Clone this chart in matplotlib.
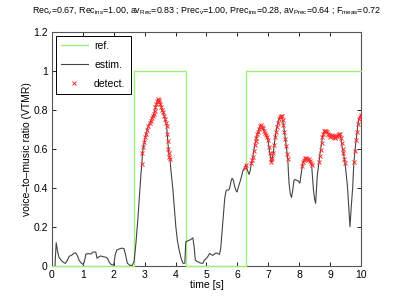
import numpy as np
import matplotlib
matplotlib.use('Agg')
import matplotlib.pyplot as plt

plt.rcParams['font.family'] = ['Liberation Sans', 'DejaVu Sans']
plt.rcParams['mathtext.fontset'] = 'custom'
plt.rcParams['mathtext.rm'] = 'Liberation Sans'
plt.rcParams['mathtext.it'] = 'Liberation Sans:italic'

# reference annotation (voice = 1)
ref_t = [0.0, 2.65, 2.65, 4.33, 4.33, 6.27, 6.27, 10.0]
ref_v = [0, 0, 1, 1, 0, 0, 1, 1]

# estimated VTMR curve
time = [0.10, 0.14, 0.18, 0.23, 0.30, 0.38, 0.44, 0.50, 0.56, 0.64, 0.72, 0.77,
        0.82, 0.88, 0.95, 1.02, 1.06, 1.10, 1.18, 1.26, 1.33, 1.42, 1.46, 1.52,
        1.58, 1.66, 1.74, 1.80, 1.86, 1.92, 2.00, 2.05, 2.10, 2.18, 2.26, 2.33,
        2.38, 2.44, 2.52, 2.60, 2.66, 2.72, 2.78, 2.84, 2.88,
        2.91, 2.93, 2.96, 2.99, 3.02, 3.05, 3.08, 3.12, 3.16, 3.20, 3.23, 3.26,
        3.29, 3.32, 3.35, 3.38, 3.41, 3.43, 3.45, 3.48, 3.51, 3.54, 3.57, 3.60,
        3.63, 3.66, 3.69, 3.71, 3.73, 3.75, 3.77, 3.78, 3.80, 3.82, 3.85, 3.91,
        3.96, 4.01, 4.06, 4.12, 4.18, 4.24, 4.30, 4.33, 4.40, 4.48, 4.56, 4.60,
        4.64, 4.72, 4.80, 4.88, 4.93, 5.00, 5.04, 5.10, 5.15, 5.20, 5.26, 5.31,
        5.37, 5.42, 5.46, 5.50, 5.54, 5.59, 5.63, 5.66, 5.72, 5.75, 5.80, 5.83,
        5.87, 5.91, 5.96, 5.99, 6.04, 6.10, 6.18, 6.24, 6.27, 6.31, 6.34, 6.38,
        6.42, 6.45, 6.48, 6.50, 6.53, 6.56, 6.59, 6.61, 6.64, 6.67, 6.70, 6.73,
        6.76, 6.79, 6.83, 6.86, 6.89, 6.92, 6.95, 6.99, 7.02, 7.05, 7.08, 7.10,
        7.13, 7.16, 7.19, 7.22, 7.25, 7.28, 7.31, 7.34, 7.37, 7.40, 7.43, 7.46,
        7.49, 7.52, 7.55, 7.58, 7.61, 7.63, 7.65, 7.67, 7.71, 7.75, 7.79, 7.83,
        7.86, 7.92, 7.97, 8.02, 8.06, 8.10, 8.13, 8.16, 8.19, 8.22, 8.25, 8.28,
        8.31, 8.34, 8.37, 8.40, 8.43, 8.46, 8.50, 8.53, 8.56, 8.58, 8.61, 8.64,
        8.66, 8.69, 8.72, 8.75, 8.78, 8.81, 8.84, 8.87, 8.90, 8.93, 8.96, 8.99,
        9.02, 9.05, 9.08, 9.11, 9.14, 9.17, 9.20, 9.23, 9.26, 9.29, 9.32, 9.35,
        9.37, 9.40, 9.43, 9.46, 9.48, 9.52, 9.56, 9.60, 9.64, 9.68, 9.73, 9.75,
        9.77, 9.80, 9.84, 9.87, 9.90, 9.93, 9.96, 9.99]
vtmr = [0.00, 0.12, 0.08, 0.045, 0.03, 0.018, 0.014, 0.03, 0.05, 0.056, 0.066, 0.068,
        0.055, 0.03, 0.015, 0.008, 0.03, 0.062, 0.064, 0.062, 0.072, 0.072, 0.040, 0.048,
        0.052, 0.048, 0.046, 0.040, 0.018, 0.008, 0.005, 0.06, 0.082, 0.088, 0.092, 0.090,
        0.060, 0.015, 0.004, 0.004, 0.025, 0.12, 0.24, 0.38, 0.47,
        0.523, 0.58, 0.61, 0.635, 0.66, 0.68, 0.70, 0.72, 0.735, 0.745, 0.76, 0.77,
        0.78, 0.795, 0.815, 0.83, 0.845, 0.855, 0.85, 0.84, 0.83, 0.815, 0.80, 0.79,
        0.77, 0.755, 0.735, 0.72, 0.68, 0.64, 0.60, 0.578, 0.56, 0.55, 0.49, 0.40,
        0.30, 0.20, 0.13, 0.08, 0.04, 0.014, 0.015, 0.125, 0.13, 0.135, 0.145, 0.10,
        0.03, 0.022, 0.016, 0.014, 0.03, 0.04, 0.048, 0.065, 0.06, 0.055, 0.062, 0.068,
        0.064, 0.06, 0.09, 0.17, 0.25, 0.347, 0.385, 0.39, 0.39, 0.40, 0.44, 0.45,
        0.44, 0.41, 0.385, 0.38, 0.41, 0.44, 0.49, 0.505, 0.52, 0.50, 0.485, 0.47,
        0.495, 0.527, 0.545, 0.56, 0.59, 0.62, 0.64, 0.655, 0.675, 0.69, 0.705, 0.718,
        0.723, 0.715, 0.706, 0.695, 0.685, 0.672, 0.66, 0.646, 0.61, 0.578, 0.55, 0.535,
        0.555, 0.578, 0.62, 0.66, 0.69, 0.715, 0.735, 0.755, 0.765, 0.77, 0.768, 0.75,
        0.725, 0.69, 0.65, 0.615, 0.575, 0.55, 0.48, 0.424, 0.37, 0.352, 0.39, 0.44,
        0.444, 0.44, 0.436, 0.425, 0.47, 0.515, 0.535, 0.545, 0.552, 0.552, 0.548, 0.546,
        0.547, 0.54, 0.53, 0.518, 0.45, 0.39, 0.34, 0.322, 0.40, 0.458, 0.50, 0.535,
        0.565, 0.595, 0.63, 0.663, 0.68, 0.692, 0.695, 0.693, 0.689, 0.68, 0.67, 0.663,
        0.668, 0.672, 0.667, 0.662, 0.658, 0.66, 0.665, 0.668, 0.67, 0.675, 0.677, 0.655,
        0.629, 0.60, 0.578, 0.55, 0.527, 0.47, 0.407, 0.30, 0.202, 0.30, 0.407, 0.48,
        0.535, 0.59, 0.646, 0.69, 0.73, 0.755, 0.765, 0.774]

threshold = 0.5

title = (r'Rec$_\mathrm{v}$=0.67, Rec$_\mathrm{ins}$=1.00, av$_\mathrm{Rec}$=0.83 ; '
         r'Prec$_\mathrm{v}$=1.00, Prec$_\mathrm{ins}$=0.28, av$_\mathrm{Prec}$=0.64 ; '
         r'F$_\mathrm{meas}$=0.72')

time = np.array(time)
vtmr = np.array(vtmr)
det = vtmr > threshold

fig = plt.figure(figsize=(3.99, 3.0), dpi=100)
ax = fig.add_axes([0.13, 0.113, 0.775, 0.78])

ax.plot(ref_t, ref_v, color='#a0f078', lw=1.0, label='ref.', zorder=3, clip_on=False)
ax.plot(time, vtmr, color='#444444', lw=0.8, label='estim.', zorder=4)
ax.plot(time[det], vtmr[det], 'x', color='#ff3030', ms=3.5, mew=0.7,
        label='detect.', zorder=5)

ax.set_xlim(0, 10)
ax.set_ylim(0, 1.2)
ax.set_xticks(range(0, 11))
ax.set_yticks([0, 0.2, 0.4, 0.6, 0.8, 1.0, 1.2])
ax.set_yticklabels(['0', '0.2', '0.4', '0.6', '0.8', '1', '1.2'])
ax.tick_params(direction='in', top=True, right=True, length=3, width=0.6,
               labelsize=7.5, pad=3)
for s in ax.spines.values():
    s.set_linewidth(0.8)
    s.set_color('#555555')

ax.set_xlabel('time [s]', fontsize=7.5, labelpad=0)
ax.set_ylabel('voice\u2013to\u2013music ratio (VTMR)', fontsize=7.5, labelpad=1)
ax.set_title(title, fontsize=6.4, pad=14)

leg = ax.legend(loc='upper left', fontsize=7.5, fancybox=False, framealpha=1,
                edgecolor='black', handlelength=2.6, borderaxespad=0.35,
                labelspacing=0.85, handletextpad=0.6, borderpad=0.5)
leg.get_frame().set_linewidth(0.7)

fig.savefig('out.png', dpi=100)
